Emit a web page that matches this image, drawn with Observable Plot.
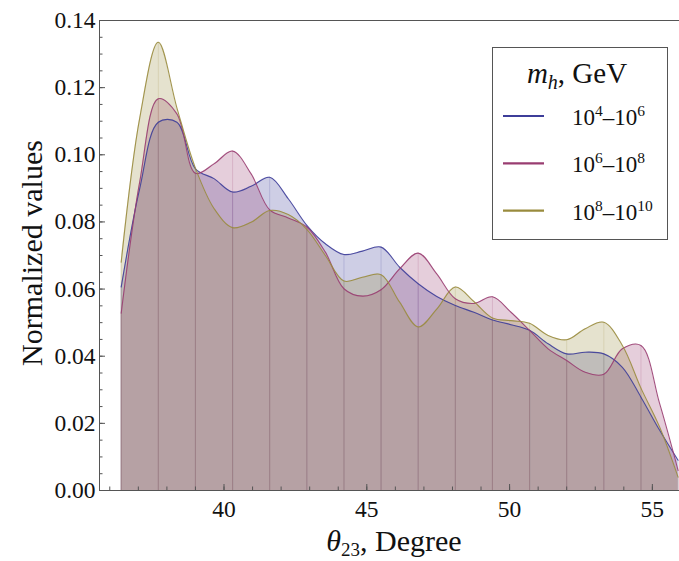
<!DOCTYPE html>
<html><head><meta charset="utf-8">
<script src="https://cdn.jsdelivr.net/npm/d3@7"></script>
<script src="https://cdn.jsdelivr.net/npm/@observablehq/plot@0.6"></script>
<style>body{margin:0;background:#fff} svg{display:block}</style>
</head><body><div id="chart"></div>
<script>
// θ23 sample positions (degrees)
const theta = [36.4, 37.05, 37.7, 38.35, 39.0, 39.65, 40.3, 40.95, 41.6, 42.25, 42.9, 43.55, 44.2, 44.85, 45.5, 46.15, 46.8, 47.45, 48.1, 48.75, 49.4, 50.05, 50.7, 51.35, 52.0, 52.65, 53.3, 53.95, 54.6, 55.25, 55.9];
// m_h = 10^4–10^6 GeV
const blue = [0.0606, 0.0900, 0.1097, 0.1097, 0.0958, 0.0929, 0.0889, 0.0906, 0.0933, 0.0869, 0.0790, 0.0735, 0.0703, 0.0713, 0.0725, 0.0665, 0.0616, 0.0578, 0.0551, 0.0531, 0.0508, 0.0494, 0.0477, 0.0437, 0.0407, 0.0412, 0.0407, 0.0367, 0.0278, 0.0180, 0.0090];
// m_h = 10^6–10^8 GeV
const pink = [0.0528, 0.0920, 0.1167, 0.1122, 0.0945, 0.0973, 0.1011, 0.0943, 0.0836, 0.0812, 0.0785, 0.0710, 0.0601, 0.0579, 0.0598, 0.0660, 0.0707, 0.0645, 0.0571, 0.0557, 0.0577, 0.0531, 0.0477, 0.0422, 0.0387, 0.0352, 0.0346, 0.0422, 0.0432, 0.0260, 0.0060];
// m_h = 10^8–10^10 GeV
const yellow = [0.0680, 0.1110, 0.1335, 0.1140, 0.0960, 0.0840, 0.0783, 0.0799, 0.0834, 0.0822, 0.0778, 0.0700, 0.0624, 0.0635, 0.0643, 0.0561, 0.0487, 0.0540, 0.0606, 0.0563, 0.0514, 0.0506, 0.0498, 0.0462, 0.0449, 0.0482, 0.0501, 0.0432, 0.0305, 0.0190, 0.0040];

const seriesNames = ["1e4-1e6", "1e6-1e8", "1e8-1e10"];
const legendLabels = [["4", "6"], ["6", "8"], ["8", "10"]];
const colors = ["#3d3d99", "#993d71", "#998b3d"];
const yTicks = [0, 0.02, 0.04, 0.06, 0.08, 0.10, 0.12, 0.14];
const yMinor = d3.range(1, 28).map(i => i * 0.005);
const xTicks = [40, 45, 50, 55];
const xMinor = d3.range(36, 56);

const rows = [];
[blue, pink, yellow].forEach((arr, si) => arr.forEach((v, i) => rows.push({x: theta[i], y: v, s: seriesNames[si], i})));
const mesh = rows.filter(d => d.i % 2 === 0);

const x0 = 35.64, x1 = 55.95;
const chart = Plot.plot({
  width: 679, height: 561,
  marginLeft: 99, marginRight: 0, marginTop: 20, marginBottom: 71,
  style: {fontFamily: "Liberation Serif", fontSize: "23.5px", background: "white", color: "#111"},
  x: {domain: [x0, x1]},
  y: {domain: [0, 0.14]},
  color: {domain: seriesNames, range: colors},
  marks: [
    Plot.areaY(rows, {x: "x", y1: 0, y2: "y", z: "s", fill: "s", fillOpacity: 0.25, curve: "catmull-rom"}),
    Plot.ruleX(mesh, {x: "x", y1: 0, y2: "y", stroke: "s", strokeOpacity: 0.18}),
    Plot.lineY(rows, {x: "x", y: "y", z: "s", stroke: "s", strokeWidth: 1.1, strokeOpacity: 0.9, curve: "catmull-rom"}),
    Plot.ruleY([0], {stroke: "#555"}),
    Plot.ruleY([0.14], {stroke: "#555"}),
    Plot.ruleX([x0], {stroke: "#555"}),
    Plot.axisY(yTicks, {tickSize: 0, tickPadding: 4, tickFormat: d3.format(".2f"), label: null, fill: "#111"}),
    Plot.axisY(yMinor, {tickSize: 3.5, dx: 3.5, tickFormat: () => "", label: null, stroke: "#555"}),
    Plot.axisY(yTicks, {tickSize: 6, dx: 6, tickFormat: () => "", label: null, stroke: "#555"}),
    Plot.axisX(xTicks, {tickSize: 0, tickPadding: 10, label: null, fill: "#111"}),
    Plot.axisX(xMinor, {tickSize: 3.5, dy: -3.5, tickFormat: () => "", label: null, stroke: "#555"}),
    Plot.axisX(xTicks, {tickSize: 6, dy: -6, tickFormat: () => "", label: null, stroke: "#555"})
  ]
});
document.getElementById("chart").appendChild(chart);

const svg = d3.select(chart);
const ff = "Liberation Serif";
// axis titles
const xt = svg.append("text").attr("x", 394).attr("y", 551).attr("text-anchor", "middle")
  .attr("font-family", ff).attr("font-size", 30).attr("fill", "#111");
xt.append("tspan").attr("font-style", "italic").text("θ");
xt.append("tspan").attr("font-size", 19).attr("dy", 5).text("23");
xt.append("tspan").attr("dy", -5).text(", Degree");

svg.append("text").attr("transform", "translate(42,253) rotate(-90)").attr("text-anchor", "middle")
  .attr("font-family", ff).attr("font-size", 30).attr("fill", "#111").text("Normalized values");

// legend
const lg = svg.append("g").attr("font-family", ff).attr("fill", "#111").attr("text-anchor", "start");
lg.append("rect").attr("x", 492.5).attr("y", 47.5).attr("width", 175).attr("height", 192)
  .attr("fill", "white").attr("stroke", "#555").attr("stroke-width", 1);
const lt = lg.append("text").attr("x", 577).attr("y", 83).attr("text-anchor", "middle").attr("font-size", 29);
lt.append("tspan").attr("font-style", "italic").text("m");
lt.append("tspan").attr("font-style", "italic").attr("font-size", 20).attr("dy", 6).text("h");
lt.append("tspan").attr("dy", -6).text(", GeV");
legendLabels.forEach((p, i) => {
  const yy = 116 + i * 47.3;
  lg.append("line").attr("x1", 503).attr("x2", 544).attr("y1", yy).attr("y2", yy)
    .attr("stroke", colors[i]).attr("stroke-width", 2.2);
  const t = lg.append("text").attr("x", 572).attr("y", yy + 9).attr("font-size", 23).attr("text-anchor", "start");
  t.append("tspan").text("10");
  t.append("tspan").attr("font-size", 15.5).attr("dy", -9).text(p[0]);
  t.append("tspan").attr("dy", 9).text("–10");
  t.append("tspan").attr("font-size", 15.5).attr("dy", -9).text(p[1]);
});
</script>
</body></html>
